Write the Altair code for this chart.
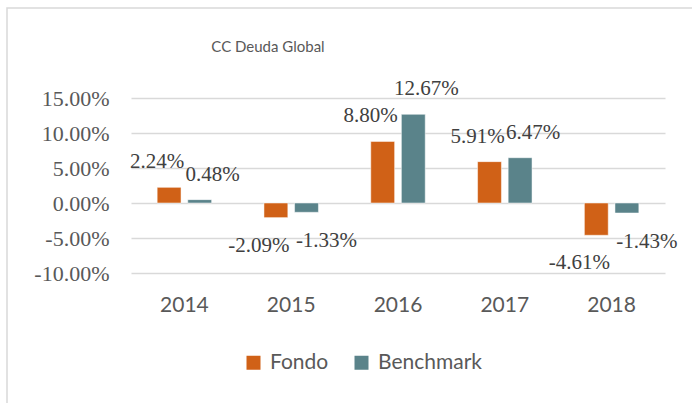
import altair as alt
import pandas as pd

title_text = "CC Deuda  Global"
years = ["2014", "2015", "2016", "2017", "2018"]
fondo = [2.24, -2.09, 8.80, 5.91, -4.61]
benchmark = [0.48, -1.33, 12.67, 6.47, -1.43]
series_names = ["Fondo", "Benchmark"]
colors = ["#D06117", "#5A838A"]
y_ticks = [-10, -5, 0, 5, 10, 15]

rows = []
for i, y in enumerate(years):
    for s, vals in zip(series_names, [fondo, benchmark]):
        v = vals[i]
        rows.append({"year": y, "series": s, "value": v,
                     "label": f"{v:.2f}%", "sign": "pos" if v >= 0 else "neg"})
df = pd.DataFrame(rows)

x_enc = alt.X("year:N", sort=years, title=None,
              scale=alt.Scale(paddingInner=0.49, paddingOuter=0.245),
              axis=alt.Axis(labelAngle=0, labelFont="Lato", labelFontSize=21,
                            labelColor="#595959", ticks=False, domain=False,
                            labelPadding=21, grid=False))
xoff_enc = alt.XOffset("series:N", sort=series_names,
                       scale=alt.Scale(paddingInner=0.22, paddingOuter=0))
y_enc = alt.Y("value:Q", title=None,
              scale=alt.Scale(domain=[-10, 15], nice=False, zero=False),
              axis=alt.Axis(values=y_ticks, tickCount=6, ticks=False, domain=False,
                            labelOverlap=False,
                            labelFont="Liberation Serif", labelFontSize=22,
                            labelColor="#595959", labelPadding=22,
                            grid=True, gridColor="#D9D9D9", gridWidth=1.5,
                            labelExpr="(datum.value < 0 ? '-' : '') + format(abs(datum.value), '.2f') + '%'"))
color_enc = alt.Color("series:N", sort=series_names,
                      scale=alt.Scale(domain=series_names, range=colors),
                      legend=alt.Legend(title=None, orient="none", direction="horizontal",
                                        legendX=112, legendY=254,
                                        symbolType="square", symbolSize=196,
                                        symbolStrokeWidth=0, symbolOpacity=1,
                                        labelFont="Lato", labelFontSize=21,
                                        labelColor="#595959", labelOffset=6,
                                        columnPadding=22))

base = alt.Chart(df)
one = pd.DataFrame({"t": [title_text]})

border = alt.Chart(one).mark_rect(
    fill=None, stroke="#D9D9D9", strokeWidth=1.5
).encode(x=alt.value(-124), x2=alt.value(575), y=alt.value(-90), y2=alt.value(320))

title = alt.Chart(one).mark_text(
    font="Lato", fontSize=15, color="#595959", align="center", baseline="middle"
).encode(x=alt.value(137), y=alt.value(-51), text="t:N")

bars = base.mark_bar(stroke="white", strokeWidth=0.5).encode(
    x=x_enc, xOffset=xoff_enc, y=y_enc, color=color_enc)

def labels(series, sign, dx, dy):
    return base.transform_filter(
        (alt.datum.series == series) & (alt.datum.sign == sign)
    ).mark_text(font="Liberation Serif", fontSize=21, color="#404040",
                baseline="middle", align="center", dx=dx, dy=dy).encode(
        x=x_enc, xOffset=xoff_enc, y=y_enc, text="label:N")

text_layers = [
    labels("Fondo", "pos", -12, -25),
    labels("Fondo", "neg", -17, 28),
    labels("Benchmark", "pos", 13, -25),
    labels("Benchmark", "neg", 20, 29),
]

chart = alt.layer(border, title, bars, *text_layers).properties(
    width=534, height=175,
    autosize=alt.AutoSizeParams(type="none"),
    padding={"left": 131, "top": 98, "right": 27, "bottom": 130},
).configure(background="white", view=alt.ViewConfig(stroke=None))

chart.save("out.html", embed_options={"renderer": "svg", "actions": False})
